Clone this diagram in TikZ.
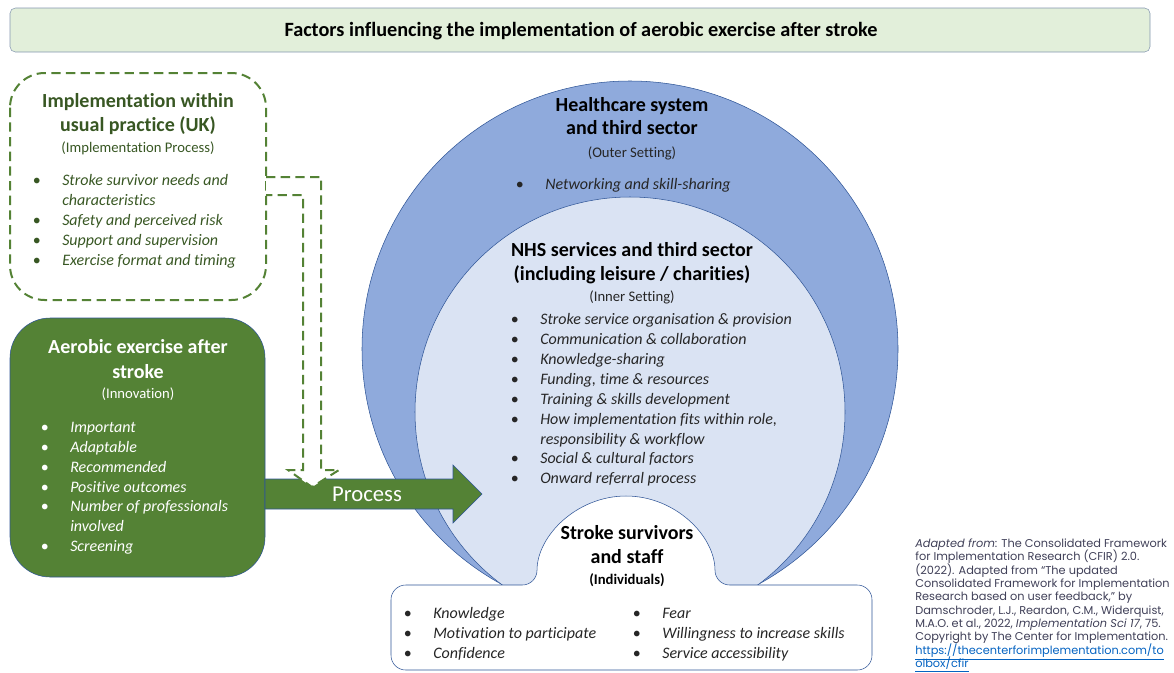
\documentclass[tikz,border=0pt]{standalone}
\usepackage{fontspec}
\setmainfont{Carlito}[Ligatures=NoCommon]
\newfontfamily\citefont{Poppins}

\definecolor{barfill}{HTML}{E2EFDA}
\definecolor{barline}{HTML}{8497B0}
\definecolor{leaf}{HTML}{548235}
\definecolor{darkleaf}{HTML}{385723}
\definecolor{ringblue}{HTML}{8FAADC}
\definecolor{paleblue}{HTML}{DAE3F3}
\definecolor{edgeblue}{HTML}{2F5597}
\definecolor{inkgray}{HTML}{262626}
\definecolor{citegray}{HTML}{404058}
\definecolor{linkblue}{HTML}{0563C1}

\newcommand{\bul}{\llap{\upshape\textbullet\hspace{16pt}}}

\begin{document}
\begin{tikzpicture}[x=0.75pt, y=-0.75pt,
		every node/.style={inner sep=0pt, yshift=-2.6pt},
		head/.style={anchor=mid, text=black, font=\fontsize{15}{18}\selectfont\bfseries},
		note/.style={anchor=mid, text=inkgray, font=\fontsize{11}{13}\selectfont},
		item/.style={anchor=mid west, text=inkgray, font=\fontsize{12}{15}\selectfont\itshape},
		cite/.style={anchor=mid west, text=citegray, font=\fontsize{8.5}{10}\citefont}]

	\useasboundingbox (0,0) rectangle (1174,672);

	% title bar
	\draw[barline, fill=barfill, rounded corners=4pt] (10,8) rectangle (1150,52);
	\node[anchor=mid, font=\fontsize{15.2}{18}\selectfont\bfseries] (title) at (581,30) {Factors influencing the implementation of aerobic exercise after stroke};

	% outer and inner setting, individuals on top
	\filldraw[edgeblue, fill=ringblue] (630,349) circle[radius=201pt];
	\filldraw[edgeblue, fill=paleblue] (630,412) circle[radius=161.25pt];
	\filldraw[edgeblue, fill=white, rounded corners=11pt] (630,670) -- (872,670) -- (872,585) -- (715,585)
		arc[start angle=0, end angle=180, radius=66.75pt] -- (391,585) -- (391,670) -- cycle;

	% implementation process and innovation boxes
	\draw[leaf, line width=1.5pt, dash pattern=on 7pt off 4pt, rounded corners=26pt] (10,73) rectangle (266,300);
	\filldraw[edgeblue, fill=leaf, rounded corners=30pt] (10,318) rectangle (265,577);

	% process arrow
	\filldraw[edgeblue, fill=leaf] (265,479) -- (453,479) -- (453,465) -- (482,494) -- (453,523) -- (453,509) -- (265,509) -- cycle;
	\node[anchor=mid, text=white, font=\fontsize{17}{20}\selectfont] (proc) at (367,495) {Process};
	\draw[leaf, fill=white, line width=1.5pt, dash pattern=on 7pt off 4pt] (266,177) -- (321,177) -- (321,470) -- (339,470) -- (312,487) -- (288,470) -- (303,470) -- (303,195) -- (266,195);

	% implementation within usual practice
	\node[head, text=darkleaf] (imp1) at (138,101) {Implementation within};
	\node[head, text=darkleaf] (imp2) at (138,125) {usual practice (UK)};
	\node[note, text=darkleaf] (imp3) at (138,146) {(Implementation Process)};
	\foreach \b/\t [count=\i from 0] in {1/Stroke survivor needs and, 0/characteristics, 1/Safety and perceived risk, 1/Support and supervision, 1/Exercise format and timing}
		\node[item, text=darkleaf] (impi\i) at (62,179.3+20*\i) {\ifnum\b=1 \bul\fi\t};

	% innovation
	\node[head, text=white] (inn1) at (138,347) {Aerobic exercise after};
	\node[head, text=white] (inn2) at (138,372) {stroke};
	\node[note, text=white] (inn3) at (138,392) {(Innovation)};
	\foreach \b/\t [count=\i from 0] in {1/Important, 1/Adaptable, 1/Recommended, 1/Positive outcomes, 1/Number of professionals, 0/involved, 1/Screening}
		\node[item, text=white] (inni\i) at (70,426+19.8*\i) {\ifnum\b=1 \bul\fi\t};

	% outer setting
	\node[head] (out1) at (632,105) {Healthcare system};
	\node[head] (out2) at (632,128) {and third sector};
	\node[note] (out3) at (632,151) {(Outer Setting)};
	\node[item] (outi) at (545,183) {\bul Networking and skill-sharing};

	% inner setting
	\node[head] (inr1) at (632,250) {NHS services and third sector};
	\node[head] (inr2) at (632,274) {(including leisure / charities)};
	\node[note] (inr3) at (632,295) {(Inner Setting)};
	\foreach \b/\t [count=\i from 0] in {1/Stroke service organisation \& provision, 1/Communication \& collaboration, 1/Knowledge-sharing, 1/{Funding, time \& resources}, 1/Training \& skills development, 1/{How implementation fits within role,}, 0/responsibility \& workflow, 1/Social \& cultural factors, 1/Onward referral process}
		\node[item] (inri\i) at (540,318.3+19.84*\i) {\ifnum\b=1 \bul\fi\t};

	% individuals
	\node[head] (ind1) at (627,533) {Stroke survivors};
	\node[head] (ind2) at (627,557) {and staff};
	\node[note, font=\fontsize{11}{13}\selectfont\bfseries, text=black] (ind3) at (627,578) {(Individuals)};
	\foreach \t [count=\i from 0] in {Knowledge, Motivation to participate, Confidence}
		\node[item] (inda\i) at (433,611.7+20*\i) {\bul\t};
	\foreach \t [count=\i from 0] in {Fear, Willingness to increase skills, Service accessibility}
		\node[item] (indb\i) at (662,611.7+20*\i) {\bul\t};

	% source
	\foreach \t [count=\i from 0] in {{\textit{Adapted from}: The Consolidated Framework}, {for Implementation Research (CFIR) 2.0.}, {(2022). Adapted from “The updated}, {Consolidated Framework for Implementation}, {Research based on user feedback,” by}, {Damschroder, L.J., Reardon, C.M., Widerquist,}, {M.A.O. et al., 2022, \textit{Implementation Sci 17}, 75.}, {Copyright by The Center for Implementation.}, {\color{linkblue}\underline{https://thecenterforimplementation.com/to}}, {\color{linkblue}\underline{olbox/cfir}}}
		\node[cite] (src\i) at (915,541+13.3*\i) {\t};
\end{tikzpicture}
\end{document}
